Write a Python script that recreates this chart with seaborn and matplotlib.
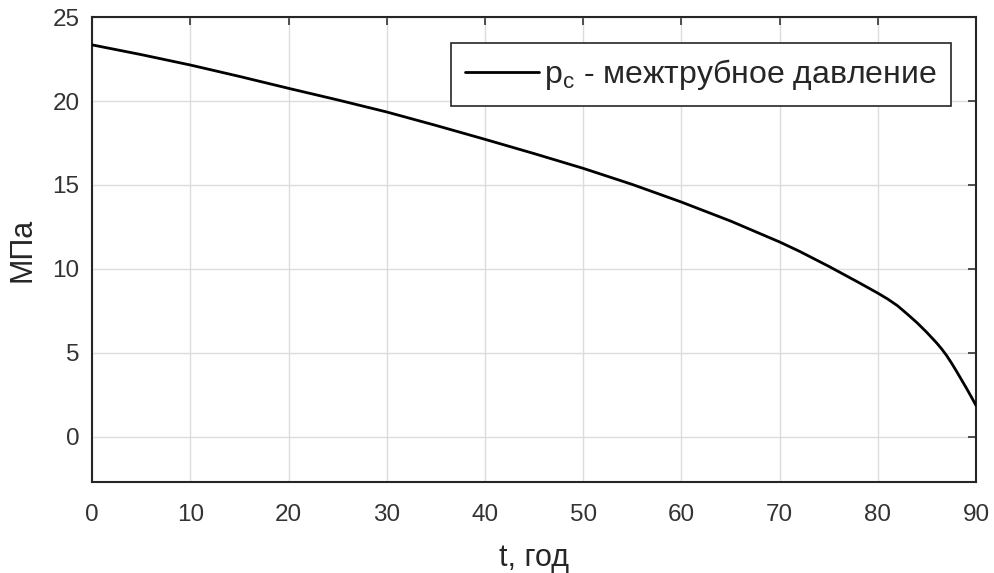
import numpy as np
import pandas as pd
import matplotlib
matplotlib.use('Agg')
import matplotlib.pyplot as plt
import seaborn as sns

# values
t_years = [0, 5, 10, 15, 20, 25, 30, 35, 40, 45, 50, 55, 60, 65, 70, 72, 75,
           78, 80, 81, 82, 83, 84, 85, 86, 86.5, 87, 87.5, 88, 88.5, 89,
           89.5, 90]
p_annulus = [23.35, 22.77, 22.15, 21.47, 20.76, 20.07, 19.35, 18.55, 17.72,
             16.87, 15.99, 15.03, 13.98, 12.85, 11.6, 11.05, 10.15, 9.2,
             8.55, 8.2, 7.8, 7.3, 6.78, 6.2, 5.57, 5.22, 4.83, 4.38, 3.9,
             3.4, 2.9, 2.38, 1.85]
x_ticks = [0, 10, 20, 30, 40, 50, 60, 70, 80, 90]
y_ticks = [0, 5, 10, 15, 20, 25]

df = pd.DataFrame({'t': t_years, 'p': p_annulus})

sns.set_style('white')
plt.rcParams['font.family'] = ['Liberation Sans', 'DejaVu Sans']
plt.rcParams['mathtext.default'] = 'regular'

fig = plt.figure(figsize=(9.94, 5.73), dpi=100)
ax = fig.add_axes([0.0926, 0.159, 0.8894, 0.811])

sns.lineplot(data=df, x='t', y='p', color='black', linewidth=2, ax=ax,
             label=r'p$_{c}$ - межтрубное давление', zorder=3)

ax.set_xlim(0, 90)
ax.set_ylim(-2.7, 25)
ax.set_xticks(x_ticks)
ax.set_yticks(y_ticks)
ax.grid(True, color='#dcdcdc', linewidth=1, zorder=0)
ax.tick_params(direction='in', length=6, width=1.2, top=True, right=True,
               labelsize=17.5, colors='#333333')
ax.tick_params(axis='x', pad=16)
ax.tick_params(axis='y', pad=9)
for s in ax.spines.values():
    s.set_color('#262626')
    s.set_linewidth(1.5)

ax.set_xlabel('t, год', fontsize=22, color='#262626', labelpad=12)
ax.set_ylabel('МПа', fontsize=22, color='#262626', labelpad=11)

leg = ax.legend(loc='upper right', fontsize=23, frameon=True, fancybox=False,
                edgecolor='#262626', framealpha=1, handlelength=2.3,
                handletextpad=0.15, borderpad=0.45, borderaxespad=0.8)
leg.get_frame().set_linewidth(1.2)

fig.savefig('out.png', dpi=100)
